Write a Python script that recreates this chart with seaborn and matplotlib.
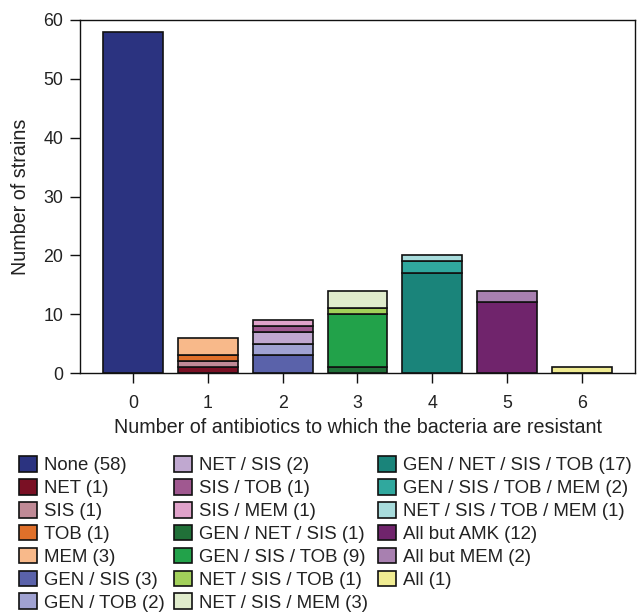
import matplotlib
matplotlib.use("Agg")
import matplotlib.pyplot as plt
from matplotlib.patches import Patch
import seaborn as sns
import numpy as np

# ---- data ----
combos = ["None", "NET", "SIS", "TOB", "MEM", "GEN / SIS", "GEN / TOB",
          "NET / SIS", "SIS / TOB", "SIS / MEM", "GEN / NET / SIS",
          "GEN / SIS / TOB", "NET / SIS / TOB", "NET / SIS / MEM",
          "GEN / NET / SIS / TOB", "GEN / SIS / TOB / MEM",
          "NET / SIS / TOB / MEM", "All but AMK", "All but MEM", "All"]
n_resistant = [0, 1, 1, 1, 1, 2, 2, 2, 2, 2, 3, 3, 3, 3, 4, 4, 4, 5, 5, 6]
counts = [58, 1, 1, 1, 3, 3, 2, 2, 1, 1, 1, 9, 1, 3, 17, 2, 1, 12, 2, 1]
colors = ["#2b3380", "#7a1024", "#c08a96", "#e0702a", "#f8b98a",
          "#5a62aa", "#a0a2d2", "#c0a8d0", "#a05890", "#e0a2ca",
          "#207038", "#22a24a", "#a2d05a", "#e0eccc",
          "#1a847a", "#30a89e", "#a8dcdc", "#70246c", "#a880b0", "#f0ec92"]
x_ticks = [0, 1, 2, 3, 4, 5, 6]
y_ticks = [0, 10, 20, 30, 40, 50, 60]

sns.set_theme(style="ticks")
plt.rcParams["font.family"] = ["Liberation Sans", "DejaVu Sans"]
FS_TICK = 12.8
FS_LAB = 14.2
FS_LEG = 13.4

fig = plt.figure(figsize=(6.38, 6.14), dpi=100)
ax = fig.add_axes([80/638, 1-373/614, (635-80)/638, (373-20)/614])

bottoms = {}
for name, n, c, col in zip(combos, n_resistant, counts, colors):
    b = bottoms.get(n, 0)
    sns.barplot(x=[n], y=[c], bottom=b, native_scale=True, width=0.8,
                color=col, saturation=1, edgecolor="#111111", linewidth=1.2,
                errorbar=None, ax=ax)
    bottoms[n] = b + c

ax.set_xlim(-0.71, 6.71)
ax.set_ylim(0, 60)
ax.set_xticks(x_ticks)
ax.set_yticks(y_ticks)
ax.set_xticklabels([str(t) for t in x_ticks], fontsize=FS_TICK, color="#222222")
ax.set_yticklabels([str(t) for t in y_ticks], fontsize=FS_TICK, color="#222222")
ax.tick_params(axis="both", direction="out", length=7, width=1, color="#111111")
ax.tick_params(axis="x", pad=8.5)
ax.tick_params(axis="y", pad=5)
for s in ax.spines.values():
    s.set_color("#111111")
    s.set_linewidth(1)
ax.set_xlabel("Number of antibiotics to which the bacteria are resistant",
              fontsize=FS_LAB, color="#222222", labelpad=4.5)
ax.set_ylabel("Number of strains", fontsize=FS_LAB, color="#222222", labelpad=10)

handles = [Patch(facecolor=col, edgecolor="#111111", linewidth=1.2) for col in colors]
labels = [f"{nm} ({c})" for nm, c in zip(combos, counts)]
fig.legend(handles, labels, ncol=3, loc="upper left",
           bbox_to_anchor=(19/638, 1-456/614), frameon=False,
           fontsize=FS_LEG, handlelength=0.97, handleheight=0.92,
           handletextpad=0.38, columnspacing=0.5, labelspacing=0.25,
           borderpad=0, borderaxespad=0, labelcolor="#222222")

fig.savefig("out.png", dpi=100)
